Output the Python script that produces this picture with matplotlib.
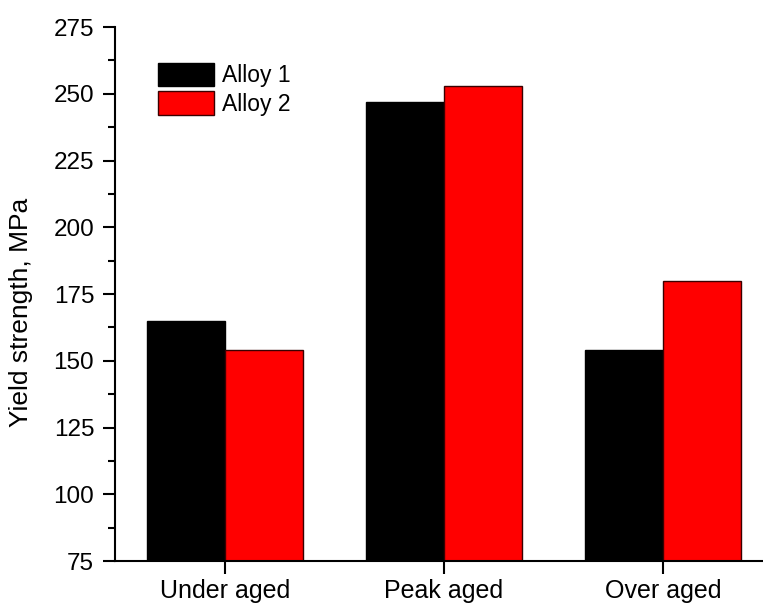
import numpy as np
import matplotlib.pyplot as plt
from matplotlib.ticker import MultipleLocator

plt.rcParams['font.family'] = ['Liberation Sans', 'DejaVu Sans']

# yield strength per ageing condition
conditions = ['Under aged', 'Peak aged', 'Over aged']
alloy1 = [165, 247, 154]
alloy2 = [154, 253, 180]

fig = plt.figure(figsize=(7.63, 6.05), dpi=100)
ax = fig.add_axes([0.1507, 0.0727, 0.8493, 0.8826])

x = np.arange(len(conditions))
w = 0.355
ax.bar(x - w / 2, alloy1, w, bottom=0, color='black', edgecolor='black', linewidth=1, label='Alloy 1')
ax.bar(x + w / 2, alloy2, w, bottom=0, color='#ff0000', edgecolor='#3a0000', linewidth=1, label='Alloy 2')

ax.set_xlim(-0.502, 2.457)
ax.set_ylim(75, 275)
ax.set_xticks(x)
ax.set_xticklabels(conditions, fontsize=18)
ax.yaxis.set_major_locator(MultipleLocator(25))
ax.yaxis.set_minor_locator(MultipleLocator(12.5))
ax.tick_params(axis='y', which='major', length=9, width=1.5, labelsize=17.5, direction='out', pad=6)
ax.tick_params(axis='y', which='minor', length=5, width=1.5)
ax.tick_params(axis='x', which='major', length=9, width=1.5, pad=4)
ax.set_ylabel('Yield strength, MPa', fontsize=19)
ax.yaxis.set_label_coords(-0.127, 0.466)

for side in ['top', 'right']:
    ax.spines[side].set_visible(False)
for side in ['left', 'bottom']:
    ax.spines[side].set_linewidth(1.5)

ax.legend(loc='upper left', bbox_to_anchor=(0.066, 0.933), frameon=False, fontsize=16.5,
          borderpad=0, borderaxespad=0,
          handlelength=2.45, handleheight=1.2, handletextpad=0.36, labelspacing=0.18)

fig.savefig('out.png', dpi=100)
